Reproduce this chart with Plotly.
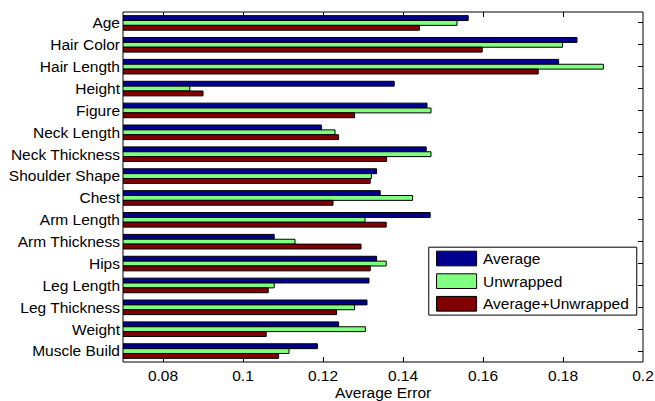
import plotly.graph_objects as go

categories = ["Age", "Hair Color", "Hair Length", "Height", "Figure", "Neck Length",
              "Neck Thickness", "Shoulder Shape", "Chest", "Arm Length", "Arm Thickness",
              "Hips", "Leg Length", "Leg Thickness", "Weight", "Muscle Build"]

average = [0.1563, 0.1835, 0.1789, 0.1378, 0.1460, 0.1196, 0.1458, 0.1334,
           0.1343, 0.1468, 0.1078, 0.1334, 0.1315, 0.1310, 0.1239, 0.1186]
unwrapped = [0.1535, 0.1799, 0.1901, 0.0867, 0.1470, 0.1230, 0.1470, 0.1321,
             0.1424, 0.1305, 0.1130, 0.1358, 0.1078, 0.1279, 0.1306, 0.1115]
average_unwrapped = [0.1441, 0.1598, 0.1738, 0.0900, 0.1279, 0.1239, 0.1359, 0.1318,
                     0.1225, 0.1358, 0.1295, 0.1318, 0.1063, 0.1234, 0.1058, 0.1089]

series = [("Average", average, "rgb(0,0,143)"),
          ("Unwrapped", unwrapped, "rgb(128,255,128)"),
          ("Average+Unwrapped", average_unwrapped, "rgb(128,0,0)")]

x_ticks = [0.08, 0.1, 0.12, 0.14, 0.16, 0.18, 0.2]
x_tick_text = ["0.08", "0.1", "0.12", "0.14", "0.16", "0.18", "0.2"]

font = "Liberation Sans, Arial, sans-serif"
fsize = 15.5

fig = go.Figure()
for name, vals, color in series:
    fig.add_trace(go.Bar(
        y=categories, x=vals, name=name, orientation="h",
        marker=dict(color=color, line=dict(color="black", width=1)),
    ))

fig.update_layout(
    width=655, height=401,
    margin=dict(l=123, r=12, t=12, b=39, autoexpand=False),
    paper_bgcolor="white", plot_bgcolor="white",
    barmode="group", bargap=0.333, bargroupgap=0,
    showlegend=False,
    font=dict(family=font, size=fsize, color="black"),
)
fig.update_xaxes(
    range=[0.07, 0.2], tickvals=x_ticks, ticktext=x_tick_text,
    ticks="inside", ticklen=5, tickcolor="black", mirror="ticks",
    showline=False, showgrid=False, zeroline=False, automargin=False,
    ticklabelstandoff=2,
)
fig.update_yaxes(
    autorange="reversed", ticks="inside", ticklen=5, tickcolor="black",
    mirror="ticks", showline=False, showgrid=False, layer="below traces",
    ticklabelstandoff=2, automargin=False,
)

# x-axis title along the bottom edge
fig.add_annotation(xref="x domain", yref="paper", x=0.5, y=0, yanchor="top", yshift=-20,
                   text="Average Error", showarrow=False,
                   font=dict(family=font, size=fsize, color="black"))

# plot-area frame
fig.add_shape(type="rect", xref="x domain", yref="y domain", x0=0, x1=1, y0=0, y1=1,
              line=dict(color="black", width=1), layer="above")

# legend box with large swatches
lx0, lx1, ly0, ly1 = 0.588, 0.988, 0.134, 0.328
fig.add_shape(type="rect", xref="x domain", yref="y domain", x0=lx0, x1=lx1, y0=ly0, y1=ly1,
              line=dict(color="black", width=1), fillcolor="white", layer="above")
row_h = (ly1 - ly0) / 3
for i, (name, vals, color) in enumerate(series):
    yc = ly1 - row_h * (i + 0.5)
    fig.add_shape(type="rect", xref="x domain", yref="y domain",
                  x0=lx0 + 0.015, x1=lx0 + 0.092, y0=yc - 0.021, y1=yc + 0.021,
                  line=dict(color="black", width=1), fillcolor=color, layer="above")
    fig.add_annotation(xref="x domain", yref="y domain", x=lx0 + 0.1, y=yc,
                       text=name, showarrow=False, xanchor="left", yanchor="middle",
                       font=dict(family=font, size=fsize, color="black"))

fig.write_html("out.html")
